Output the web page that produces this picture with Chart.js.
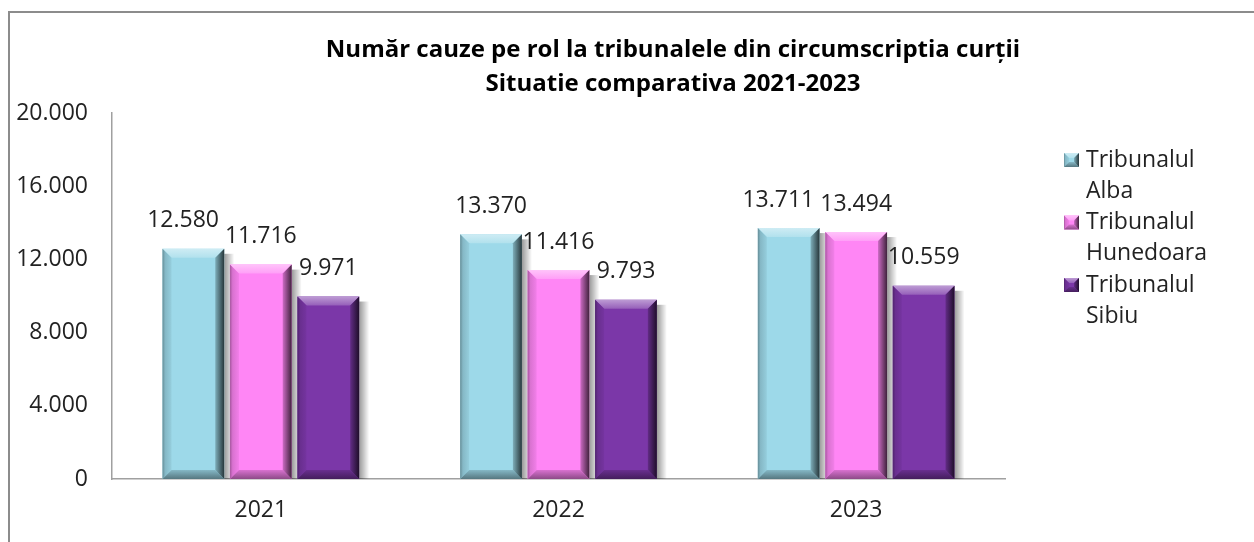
<!DOCTYPE html>
<html lang="ro">
<head>
<meta charset="UTF-8">
<title>Număr cauze pe rol</title>
<script src="https://cdn.jsdelivr.net/npm/chart.js"></script>
<style>
  html, body { margin: 0; padding: 0; background: #fff; }
  #wrap { width: 1254px; height: 542px; position: relative; }
</style>
</head>
<body>
<div id="wrap"><canvas id="chart"></canvas></div>
<script>
// date
const years = ['2021', '2022', '2023'];
const seriesNames = ['Tribunalul Alba', 'Tribunalul Hunedoara', 'Tribunalul Sibiu'];
const legendLines = [['Tribunalul', 'Alba'], ['Tribunalul', 'Hunedoara'], ['Tribunalul', 'Sibiu']];
const alba = [12580, 13370, 13711];
const hunedoara = [11716, 11416, 13494];
const sibiu = [9971, 9793, 10559];
const yTicks = [0, 4000, 8000, 12000, 16000, 20000];
const titleLines = ['Număr cauze pe rol la tribunalele din circumscriptia curţii', 'Situatie comparativa 2021-2023'];

const colors = ['#9dd9e9', '#ff86f5', '#7b37a8'];
const FONT = '"Open Sans", Arial, sans-serif';
const TXT = '#222222';

function fmt(v) { return String(v).replace(/\B(?=(\d{3})+(?!\d))/g, '.'); }

function mix(hex, target, t) {
    const a = parseInt(hex.slice(1), 16), b = parseInt(target.slice(1), 16);
    const c = [16, 8, 0].map(s => Math.round(((a >> s) & 255) * (1 - t) + ((b >> s) & 255) * t));
    return 'rgb(' + c.join(',') + ')';
}

function poly(ctx, pts, fill) {
    ctx.beginPath();
    ctx.moveTo(pts[0][0], pts[0][1]);
    for (let i = 1; i < pts.length; i++) ctx.lineTo(pts[i][0], pts[i][1]);
    ctx.closePath();
    ctx.fillStyle = fill;
    ctx.fill();
}

// bevel 3D peste bara
function drawBevel(ctx, l, t, r, bot, color, bv) {
    const bh = Math.min(bv, (bot - t) / 2);
    let g = ctx.createLinearGradient(0, t, 0, t + bh);
    g.addColorStop(0, mix(color, '#ffffff', 0.5));
    g.addColorStop(1, mix(color, '#ffffff', 0.2));
    poly(ctx, [[l, t], [r, t], [r - bv, t + bh], [l + bv, t + bh]], g);
    g = ctx.createLinearGradient(l, 0, l + bv, 0);
    g.addColorStop(0, mix(color, '#000000', 0.35));
    g.addColorStop(0.3, mix(color, '#000000', 0.15));
    g.addColorStop(1, mix(color, '#000000', 0.05));
    poly(ctx, [[l, t], [l + bv, t + bh], [l + bv, bot - bh], [l, bot]], g);
    g = ctx.createLinearGradient(0, bot - bh, 0, bot);
    g.addColorStop(0, mix(color, '#000000', 0.15));
    g.addColorStop(1, mix(color, '#000000', 0.45));
    poly(ctx, [[l, bot], [l + bv, bot - bh], [r - bv, bot - bh], [r, bot]], g);
    g = ctx.createLinearGradient(r - bv, 0, r, 0);
    g.addColorStop(0, mix(color, '#000000', 0.2));
    g.addColorStop(1, mix(color, '#000000', 0.75));
    poly(ctx, [[r, t], [r, bot], [r - bv, bot - bh], [r - bv, t + bh]], g);
}

const framePlugin = {
    id: 'frame',
    beforeDraw(chart) {
        const ctx = chart.ctx;
        ctx.save();
        ctx.strokeStyle = '#8c8c8c';
        ctx.lineWidth = 2;
        ctx.strokeRect(9, 12, 1400, 700);
        ctx.restore();
    }
};

const barStylePlugin = {
    id: 'barStyle',
    beforeDatasetsDraw(chart) {
        const ctx = chart.ctx;
        ctx.save();
        chart.data.datasets.forEach((ds, i) => {
            chart.getDatasetMeta(i).data.forEach(bar => {
                const r = bar.x + bar.width / 2;
                const g = ctx.createLinearGradient(r, 0, r + 10, 0);
                g.addColorStop(0, 'rgba(0,0,0,0.4)');
                g.addColorStop(1, 'rgba(0,0,0,0)');
                ctx.fillStyle = g;
                ctx.fillRect(r, bar.y + 5, 10, bar.base - bar.y - 5);
            });
        });
        ctx.restore();
    },
    afterDatasetsDraw(chart) {
        const ctx = chart.ctx;
        ctx.save();
        ctx.font = '23px ' + FONT;
        ctx.textAlign = 'center';
        ctx.textBaseline = 'middle';
        const n = chart.data.datasets.length;
        chart.data.labels.forEach((lab, j) => {
            // etichete: pozitie + evitare suprapunere
            const items = [];
            for (let i = 0; i < n; i++) {
                const bar = chart.getDatasetMeta(i).data[j];
                drawBevel(ctx, bar.x - bar.width / 2, bar.y, bar.x + bar.width / 2, bar.base, colors[i], 9);
                const txt = fmt(chart.data.datasets[i].data[j]);
                items.push({ txt, x: bar.x, y: bar.y - 28, w: ctx.measureText(txt).width });
            }
            for (let i = n - 1; i > 0; i--) {
                const a = items[i - 1], b = items[i];
                if (Math.abs(a.y - b.y) < 26) {
                    const over = (a.x + a.w / 2 + 6) - (b.x - b.w / 2);
                    if (over > 0) a.x -= over;
                }
            }
            ctx.fillStyle = TXT;
            items.forEach(it => ctx.fillText(it.txt, it.x, it.y));
        });
        ctx.restore();
    }
};

const titlePlugin = {
    id: 'titleText',
    afterDraw(chart) {
        const ctx = chart.ctx;
        ctx.save();
        ctx.fillStyle = '#000';
        ctx.font = 'bold 24px ' + FONT;
        ctx.textAlign = 'center';
        ctx.textBaseline = 'middle';
        titleLines.forEach((t, i) => ctx.fillText(t, 673, 50 + i * 34));
        ctx.restore();
    }
};

function drawMarker(ctx, l, t, r, b, color) {
    poly(ctx, [[l, t], [r, t], [r, b], [l, b]], color);
    drawBevel(ctx, l, t, r, b, color, 5);
}

const legendPlugin = {
    id: 'legendBox',
    afterDraw(chart) {
        const ctx = chart.ctx;
        ctx.save();
        ctx.font = '23px ' + FONT;
        ctx.textAlign = 'left';
        ctx.textBaseline = 'middle';
        legendLines.forEach((lines, i) => {
            const y0 = 160 + i * 62.5;
            drawMarker(ctx, 1064, y0 - 7, 1079, y0 + 7, colors[i]);
            ctx.fillStyle = TXT;
            lines.forEach((txt, k) => ctx.fillText(txt, 1086, y0 + k * 31));
        });
        ctx.restore();
    }
};

new Chart(document.getElementById('chart'), {
    type: 'bar',
    data: {
        labels: years,
        datasets: [
            { label: seriesNames[0], data: alba, backgroundColor: colors[0] },
            { label: seriesNames[1], data: hunedoara, backgroundColor: colors[1] },
            { label: seriesNames[2], data: sibiu, backgroundColor: colors[2] }
        ]
    },
    options: {
        responsive: true,
        maintainAspectRatio: false,
        animation: false,
        layout: { padding: { top: 113, right: 249, left: 0, bottom: 0 } },
        datasets: { bar: { categoryPercentage: 0.68, barPercentage: 0.915 } },
        plugins: {
            legend: { display: false },
            title: { display: false },
            tooltip: { enabled: false }
        },
        scales: {
            x: {
                grid: { display: false, drawTicks: false },
                border: { display: true, color: '#a0a0a0', width: 1.5 },
                ticks: { padding: 18, color: TXT, font: { family: FONT, size: 23 } },
                afterFit(s) { s.height = 63; }
            },
            y: {
                min: 0, max: 20000,
                grid: { display: false, drawTicks: false },
                border: { display: true, color: '#a0a0a0', width: 1.5 },
                ticks: { padding: 24, color: TXT, font: { family: FONT, size: 23 }, callback: v => fmt(v) },
                afterBuildTicks(s) { s.ticks = yTicks.map(v => ({ value: v })); },
                afterFit(s) { s.width = 112; }
            }
        }
    },
    plugins: [framePlugin, barStylePlugin, titlePlugin, legendPlugin]
});
</script>
</body>
</html>
